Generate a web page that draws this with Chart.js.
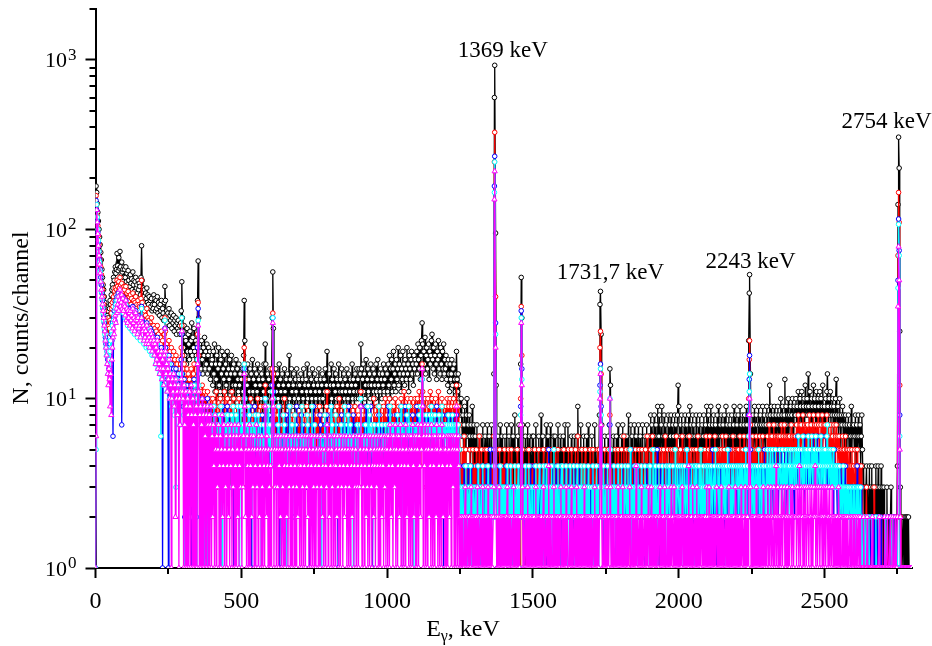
<!DOCTYPE html>
<html>
<head>
<meta charset="utf-8">
<script src="https://cdn.jsdelivr.net/npm/chart.js@4.4.1/dist/chart.umd.min.js"></script>
<style>
  html, body { margin: 0; padding: 0; background: #ffffff; }
  #wrap { width: 932px; height: 646px; }
</style>
</head>
<body>
<div id="wrap"><canvas id="spectrum" width="932" height="646"></canvas></div>
<script>
// Gamma spectrum, 2 keV per channel, 0..2798 keV.
// Each string covers 100 keV (50 channels); one character per channel:
// 0-9 -> 0-9, a-z -> 10-35, A-Z -> 36-61. Larger counts are listed in the *High arrays as [keV, counts].
const CHANNEL_KEV = 2;

const blackCounts = [
  "1ZZZZZZZZZ ZWQLIEBzxy vxuzyCAFIL JQOUYTWZZV ZXZYTZUWQY",
  "WQYNTLVORK SMPIULOHNQ JLGOIMKFQZ OHJEICGDJB FAEyCzDxAy",
  "FADxCyEwBz vAxCuywtBK Cvxswuyrvt wqusvptruo sqtprosxNu",
  "pkrinmgqjo lhpjmsinkq jgmilCZukh jfmhekinfj gleikfjdhg",
  "hcjelbgdia fkcgbhejaf dibgcejafd hbeiafcg9e chafdbgcea",
  "d9fbiCmae8 cg9dbf8eah bd9fc8ebga d9cfae8dbg 9lgcae9dbf",
  "c8euUqad9f b8eacg9db7 eac9fb8dae 9ciad8fb9c ea8dbf9cad",
  "c9e8bdaf9c 8dbgac9e7b daf9c8ebad 9c8fbad9ce a8dbf9cjb9",
  "be9cgad8cf 9bead8cgab d9fbc8eadb 9fcae8bd9c gadb9ecafb",
  "dafbelf9dg beach9dfbc eagcd9fbec agbdhc9ebf daecgbdfae",
  "ebgciafdhb fjcegbhdfk cgeibfdjeg chfdkegbif dhjegcifhe",
  "gjelhfkdim slfjgneikf hldjgimohf keilgdjhmf iekgdjfleh",
  "fidgchebgd ehcfagdbej dbeac98a76 8579648a67 5864759637",
  "4635725463 5463743564 2573465247 354eZZZc53 6425734652",
  "5364274536 4257346358 354264735g Qu74253642 5734625436",
  "4625374524 6354824635 4257346253 7435264364 2547352643",
  "5362473542 7435246354 3624536942 5473254635 2463574253",
  "4635247354 35248AHo74 2536425436 47fc352463 5426357425",
  "5364725463 4635842573 6452735643 5734625473 4265374526",
  "6584763586 4756936854 7956486375 6485736845 764857368c",
  "9657486537 6845763859 5746837564 8563758465 7468537695",
  "6857496573 8657468596 4768537685 6957468576 3865794685",
  "7586496758 6478569758 mGSe675847 9658746957 8675947865",
  "796857c869 7586974867 96857a6895 78d69758a6 87968a7598",
  "8a796b87a9 7b869a7c89 a8e97b86a9 7c8a96b87a 97b8a69c78",
  "97a8be97a8 b798a6987a d87968a758 7968578647 6857469576",
  "7568476586 5746853423 1342302413 2413203241 3241231423",
  "2132021312 0212312012 120124ZZZp 3120121021 2120210101"
];
const blackHigh = [[2,180],[4,165],[6,142],[8,126],[10,112],[12,100],[14,90],[16,81],[18,73],[20,66],
  [74,72],[80,68],[84,74],[90,64],[158,80],[352,65],[1368,600],[1369,930],[1372,95],
  [2752,140],[2754,350],[2756,230]];

const redCounts = [
  "0ZZZZZZZZY SMIEAxusqr oqnrqtswyB zECHJFIOKH NJQLGMHJEK",
  "IDKBGzHCEy FADxGzCwBE yAvCxAzuDO Bwytxsvtyr uqtpsruorp",
  "rnqlpmrkom jnlpimkhou pjlgkimfjh keigjdhfic gehdfcgkri",
  "fcgbedafce bd9cfacbeg c9badoBib9 b8ac7a9b8a 79b8698a79",
  "7a38694b36 8596a43859 6b8359a684 7938b68a37 869534a968",
  "76859kd738 694385a674 86953386a7 5839648739 6c85396487",
  "758fwe6837 9648359674 8635a64876 5869436857 6483596738",
  "6857943685 7693864758 6975483795 8536946857 6758439b75",
  "7586437586 58739675a6 8653948675 6975843795 8637596857",
  "68759b7385 7964835968 5796347a68 7589634896 8675936a75",
  "8697a58496 7986a75386 9785a6947b 68975a8397 8a796849a7",
  "97a86b948a gb897a6387 a896b74a97 897a6397b8 7986a84968",
  "897a6897a8 7968a7968c 8796753425 3462351432 4352431534",
  "3425314362 4352341352 3524314235 2436ZZE532 4135243243",
  "3524314352 4235341324 342532431a zi53243143 2435234134",
  "3425324134 5234134253 2431452342 3524313425 4235143243",
  "2435234134 3524325314 4235342632 3413524324 5324314352",
  "3425314324 35245kpe43 2435134235 4385243143 2534235134",
  "4352436243 5342453143 3542345324 4253413542 3425346324",
  "4352463425 3452341534 5342534632 4534235435 3425436243",
  "5435246342 4534253463 3452435342 5346342534 4253453643",
  "4536435245 3463542543 5345364352 4634534254 3546345345",
  "4535463453 5463453546 ahm7453645 3546534536 4534654354",
  "5463574564 6547536546 4653657456 5746546536 6457564564",
  "6574685675 7658647657 5764865765 6857657468 7564768567",
  "6756856746 5764657546 7564564535 4653546453 5435424534",
  "4352435434 3424332121 1231202121 2012131201 2102120121",
  "1012010120 1010210101 010112ZZZc 2101010010 1001001000"
];
const redHigh = [[2,158],[4,140],[6,120],[8,105],[10,92],[12,82],[14,74],[16,66],
  [1368,250],[1369,374],[2752,70],[2754,165],[2756,110]];

const blueCounts = [
  "0ZZZZZZZWQ LGCyvspnlm jhkfilgoms 6uxtACyEBG zDAFC7BEyC",
  "AwCuztyvxs yuwrztvqux supvrtsouz tqsnroqmsn pmolqnpkom",
  "nkmiljnhki gjhkf0iejq kghdg1icfe gbedfaecf9 dbeac9dhoe",
  "c9d2ba8c1b 9a7bc0a9bd a792bkye98 918a690978 68a1782968",
  "6479836547 5847063798 4657389746 8463578065 5748369473",
  "56477fa564 7583697164 6479368457 4657358475 6a54736584",
  "546cub5463 5746390645 6453746836 4593574526 5364794635",
  "4658647546 5364573154 6547956453 5645387456 3564754854",
  "5463974653 6547530564 5685745645 7456956475 4683645746",
  "5647596456 4756957465 6495615647 5647568756 7465746574",
  "6594685675 7647568564 5768965706 6975685476 5764865765",
  "7958675867 d967586758 6785769876 7586796576 8675687167",
  "6758675686 7568675678 6756432312 3241320324 2312432132",
  "3213242032 1324231232 4231232513 2325ZZs321 3241232032",
  "2312423213 2423132023 3213242329 xf42312324 1322314232",
  "3241322302 3124232132 2431232521 3224132312 4231232413",
  "2313242132 3242132324 1322431232 4231232032 2324213231",
  "3242132321 23243cg932 3123242132 2373213242 3213242312",
  "2324231324 3213243252 3124232313 2432132423 2313243232",
  "3242313243 2325231324 3231423232 4232134232 3243213243",
  "2432314232 3242532313 4232314323 2342321432 3234232423",
  "4233243252 3423134233 2432342314 3243235232 4323423243",
  "3243243234 2342352432 8di5324324 3234231432 4324323523",
  "4352434253 3424532434 5243435243 3452342534 4324534324",
  "4534635435 3453462453 5346345345 4635435463 5435463454",
  "4536435435 3453424534 4324343243 3243234232 2323213232",
  "3231324232 3223211010 1021012010 2101021012 0120101201",
  "0100210100 1020100102 010101OZZ8 1010010010 0100100010"
];
const blueHigh = [[2,148],[4,130],[6,112],[8,96],[10,84],[12,74],[14,66],
  [1368,180],[1369,270],[2754,115],[2756,75]];

const cyanCounts = [
  "05ZZZZZZUN HDzwtqomki jgehfjmkpr otvsyAwCzE xByDAxzCwA",
  "yuAtxrwuvq wsupxrtosv qsntprqmsy roqlpmokql nkmjolnimk",
  "likgjhlfig eh6idgfcht iefbedgadc e9cbd8ca3d b9c8a7beuc",
  "b8c1a97b0a 892ab6981c 9680ahtc87 8279580867 5791673857",
  "5749385647 4758394075 6475836857 3748569467 5836974059",
  "64757ga645 7395846754 5746875648 6457164573 5a64759657",
  "465bua4653 6457964564 5384754605 6459654745 4685465364",
  "5464936546 4658745645 6954657453 5645364165 4568546546",
  "6456957456 4586546536 5745645965 4658564754 6506456457",
  "56457a5465 6457465965 8657546574 6546579654 5746564756",
  "6575697657 5764675685 7567965765 6756856976 5675617657",
  "7657685967 d867576857 6758679586 7685767568 6756967567",
  "7657686756 7685765767 6576532312 3213242132 2324132231",
  "2312324123 2132423123 3224132321 3224ZZo323 1232421323",
  "2321324231 3242132324 2132342138 ud32132423 2314232132",
  "3123242132 2432132342 1324231232 3241325213 2324213234",
  "2413232421 3232413232 4213234231 2324213243 1323242312",
  "2324132324 23133bf823 2421323242 32a5231324 2321324232",
  "3242313243 2324232523 1323243232 4231324232 3243231324",
  "2432325232 4232134233 2342323142 3243242323 4232523243",
  "3243234232 4323523423 2342324324 3423243253 2342332432",
  "4324324323 3425323432 4233424324 3243523423 2432432343",
  "3423432432 4324352343 6be4324324 3243243523 4323424332",
  "4353424534 3543425343 4345343254 3424534345 4253435434",
  "5435463543 4536435453 5463453464 3545364354 4354635435",
  "4534674354 3543453434 4334234323 3243232323 2322321322",
  "3232132323 2231210121 0120102101 0210100120 1012010010",
  "1001020100 0101002010 101001JZZ6 0100101001 0010001000"
];
const cyanHigh = [[4,140],[6,118],[8,100],[10,86],[12,74],[14,64],
  [1368,165],[1369,250],[2754,107],[2756,70]];

const magentaCounts = [
  "06ZZZZZZTN IEAxurpmki gecfd9e8hk nqotvsywAE xCIzBFyDxA",
  "zvCtysxuwr xtvqysuptw rtouqsrntu sprmqnplrm olnkpmojnl",
  "milgkhmfjg eifjdhfciq jegbfdhaec 0adbe9c2da b8c1a7bdpb",
  "a1c70b91a8 0b91c80a71 b8091grb08 917a081960 8197081790",
  "6274085163 5714605824 7153604725 0647153607 4165270463",
  "51636e9250 6415704625 3605417350 6245063154 0952641530",
  "415as90536 1536045260 5316405624 0536145063 5146035264",
  "1540635146 0536240561 4605316405 3614506352 4056143750",
  "5264053614 6045263054 1635046253 6045136054 2560435163",
  "4063594163 5046253064 1653046254 0635416504 6254063516",
  "5164075264 0653715604 6257046516 4075264065 1650742650",
  "6157064275 f906471560 7526407516 4065275064 1650742651",
  "5064165264 0653615609 5164021201 2102312012 1201321202",
  "1202131201 2120312120 1213021212 0123ZZk210 2131201212",
  "1202123120 2121021312 0212102127 sc31201212 1312021210",
  "2120131212 0212120131 2102121412 1210213120 2121021231",
  "1202121312 2012123121 0212131202 1212012131 2120212120",
  "1210213121 20212ae721 2102121312 12a3120212 1021213120",
  "2121312021 2102123121 1212021412 2021213121 1210212132",
  "1213120212 2121021231 2021213121 1212021312 2131202121",
  "2120213212 1212021412 2121310212 1312021212 2121202131",
  "2131202121 2121231202 1213121210 2121213121 0212121312",
  "1212021312 2121312021 38a3121202 1213121212 0212131212",
  "2123120231 2213212412 3121203212 2312123120 1232132122",
  "2312321421 3221302321 2321232132 1232412312 3212320231",
  "2312321231 2213212021 2121312120 1212021211 2101210210",
  "2120121021 1201101201 0102010100 1020100101 0100201001",
  "0102001020 1002010201 020102zZO5 2010010001 0010000100"
];
const magentaHigh = [[4,130],[6,110],[8,94],[10,80],[12,70],[14,62],
  [1368,150],[1369,220],[2754,79]];

// Labelled lines: the peak maximum sits exactly at these energies.
const peakEnergies = [1369, 1731.7, 2243, 2754];
const peakLabels = ['1369 keV', '1731,7 keV', '2243 keV', '2754 keV'];

const xMajorTicks = [0, 500, 1000, 1500, 2000, 2500];
const xMinorTicks = [250, 750, 1250, 1750, 2250, 2750];
const yDecades = [1, 10, 100, 1000];
const yMinorTicks = [2,3,4,5,6,7,8,9,20,30,40,50,60,70,80,90,200,300,400,500,600,700,800,900,2000];

const SERIF = '"Liberation Serif", "Times New Roman", serif';

function decodeCount(ch) {
  const c = ch.charCodeAt(0);
  if (c <= 57) return c - 48;   // 0-9
  if (c >= 97) return c - 87;   // a-z
  return c - 29;                // A-Z
}

function buildPoints(segments, high) {
  const pts = [];
  segments.forEach((seg, s) => {
    const row = seg.replace(/ /g, '');
    for (let j = 0; j < row.length; j++) {
      pts.push({ x: s * 100 + j * CHANNEL_KEV, y: decodeCount(row[j]) });
    }
  });
  high.forEach(([e, n]) => { pts[Math.round(e / CHANNEL_KEV)].y = n; });
  peakEnergies.forEach(e => { pts[Math.round(e / CHANNEL_KEV)].x = e; });
  return pts;
}

const seriesDefs = [
  { label: 'black',   counts: blackCounts,   high: blackHigh,   color: '#000000', style: 'circle',   order: 5 },
  { label: 'red',     counts: redCounts,     high: redHigh,     color: '#ff0000', style: 'circle',   order: 4 },
  { label: 'blue',    counts: blueCounts,    high: blueHigh,    color: '#0000ff', style: 'circle',   order: 3 },
  { label: 'cyan',    counts: cyanCounts,    high: cyanHigh,    color: '#00ffff', style: 'circle',   order: 2 },
  { label: 'magenta', counts: magentaCounts, high: magentaHigh, color: '#ff00ff', style: 'triangle', order: 1 }
];

const datasets = seriesDefs.map(d => ({
  label: d.label,
  data: buildPoints(d.counts, d.high),
  order: d.order,
  borderColor: d.color,
  borderWidth: 1.3,
  tension: 0,
  fill: false,
  pointStyle: d.style,
  pointRadius: d.style === 'triangle' ? 3 : 2.3,
  pointBorderWidth: 1,
  pointBorderColor: d.color,
  pointBackgroundColor: '#ffffff',
  pointHoverRadius: 0
}));

// Minor ticks, decade labels with exponents, axis titles and peak labels.
const axisDecor = {
  id: 'axisDecor',
  afterDraw(chart) {
    const { ctx, chartArea: area } = chart;
    const xs = chart.scales.x, ys = chart.scales.y;
    ctx.save();
    ctx.strokeStyle = '#000';
    ctx.fillStyle = '#000';
    ctx.lineWidth = 2;
    ctx.beginPath();
    xMinorTicks.forEach(v => {
      const px = Math.round(xs.getPixelForValue(v));
      ctx.moveTo(px, area.bottom); ctx.lineTo(px, area.bottom + 6);
    });
    yMinorTicks.forEach(v => {
      const py = Math.round(ys.getPixelForValue(v));
      ctx.moveTo(area.left - 6, py); ctx.lineTo(area.left, py);
    });
    ctx.stroke();

    yDecades.forEach(d => {
      const py = ys.getPixelForValue(d);
      ctx.textBaseline = 'alphabetic';
      ctx.font = '22px ' + SERIF;
      ctx.textAlign = 'right';
      ctx.fillText('10', 67, py + 7.5);
      ctx.font = '17px ' + SERIF;
      ctx.textAlign = 'left';
      ctx.fillText(String(Math.round(Math.log10(d))), 68, py);
    });

    // y title
    ctx.save();
    ctx.translate(22, 318);
    ctx.rotate(-Math.PI / 2);
    ctx.font = '24px ' + SERIF;
    ctx.textAlign = 'center';
    ctx.textBaseline = 'middle';
    ctx.fillText('N, counts/channel', 0, 0);
    ctx.restore();

    // x title: E with subscript gamma
    ctx.textAlign = 'left';
    ctx.textBaseline = 'alphabetic';
    const big = '24px ' + SERIF, small = '16px ' + SERIF;
    ctx.font = big; const wE = ctx.measureText('E').width; const wRest = ctx.measureText(', keV').width;
    ctx.font = small; const wG = ctx.measureText('γ').width;
    let tx = 463 - (wE + wG + wRest) / 2;
    const tb = 636;
    ctx.font = big; ctx.fillText('E', tx, tb); tx += wE;
    ctx.font = small; ctx.fillText('γ', tx, tb + 5); tx += wG;
    ctx.font = big; ctx.fillText(', keV', tx, tb);

    // peak labels above the black maxima
    const black = chart.data.datasets[0].data;
    const offsets = [[8, 8], [10, 12], [1, 7], [-12, 9]];
    ctx.font = '23px ' + SERIF;
    ctx.textAlign = 'center';
    peakEnergies.forEach((e, i) => {
      const p = black[Math.round(e / CHANNEL_KEV)];
      const px = xs.getPixelForValue(p.x) + offsets[i][0];
      const py = ys.getPixelForValue(p.y) - offsets[i][1];
      ctx.fillText(peakLabels[i], px, py);
    });
    ctx.restore();
  }
};

Chart.defaults.font.family = SERIF;
Chart.defaults.color = '#000';

new Chart(document.getElementById('spectrum'), {
  type: 'line',
  data: { datasets },
  options: {
    responsive: false,
    animation: false,
    devicePixelRatio: 1,
    parsing: false,
    normalized: true,
    events: [],
    layout: { padding: { top: 9, right: 20, left: 0, bottom: 0 } },
    plugins: { legend: { display: false }, tooltip: { enabled: false } },
    scales: {
      x: {
        type: 'linear', min: 0, max: 2800,
        border: { display: true, color: '#000', width: 2 },
        grid: { display: true, drawOnChartArea: false, drawTicks: true, tickLength: 10, tickWidth: 2, tickColor: '#000' },
        ticks: { color: '#000', font: { family: SERIF, size: 24 }, padding: 9, maxRotation: 0, autoSkip: false,
                 callback: v => String(v) },
        afterBuildTicks: s => { s.ticks = xMajorTicks.map(v => ({ value: v })); },
        afterFit: s => { s.height = 78; }
      },
      y: {
        type: 'logarithmic', min: 1, max: 2000,
        border: { display: true, color: '#000', width: 2 },
        grid: { display: true, drawOnChartArea: false, drawTicks: true, tickLength: 10, tickWidth: 2, tickColor: '#000' },
        ticks: { display: false },
        afterBuildTicks: s => { s.ticks = yDecades.map(v => ({ value: v })); },
        afterFit: s => { s.width = 95.5; }
      }
    }
  },
  plugins: [axisDecor]
});
</script>
</body>
</html>
